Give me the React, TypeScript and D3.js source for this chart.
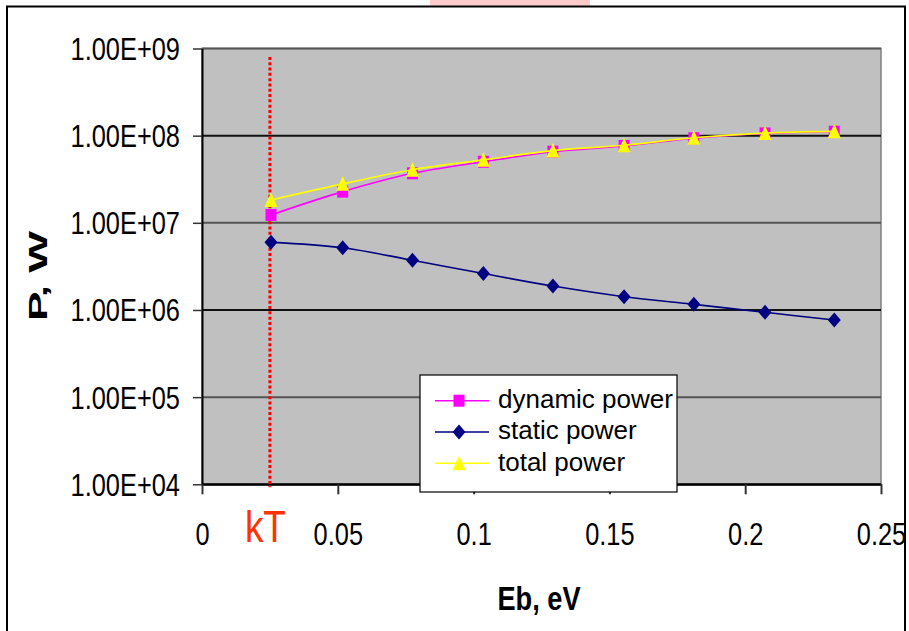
import React, { useEffect, useRef } from 'react';
import * as d3 from 'd3';

// barrier energy, eV
const ebValues = [0.0254, 0.0518, 0.0775, 0.1036, 0.1292, 0.1554, 0.1811, 0.2073, 0.2328];
// power, W
const dynamicPower = [1.23e7, 2.28e7, 3.7e7, 5.02e7, 6.55e7, 7.61e7, 9.33e7, 1.06e8, 1.11e8];
const staticPower = [5.97e6, 5.18e6, 3.72e6, 2.62e6, 1.88e6, 1.42e6, 1.16e6, 9.4e5, 7.67e5];
const totalPower = [1.83e7, 2.8e7, 4.07e7, 5.28e7, 6.74e7, 7.75e7, 9.45e7, 1.07e8, 1.12e8];

const xTicks = [0, 0.05, 0.1, 0.15, 0.2, 0.25];
const yTicks = [1e4, 1e5, 1e6, 1e7, 1e8, 1e9];
const kT = 0.025;

const seriesNames = ['dynamic power', 'static power', 'total power'];

const FONT = "'Liberation Sans', Arial, sans-serif";

const fmtSci = (d: number) => {
  const e = Math.floor(Math.log10(d) + 1e-9);
  const m = d / Math.pow(10, e);
  return `${m.toFixed(2)}E${e < 0 ? '-' : '+'}${String(Math.abs(e)).padStart(2, '0')}`;
};

function drawMarker(g: any, kind: string, cx: number, cy: number) {
  if (kind === 'square') {
    g.append('rect')
      .attr('x', cx - 5.5).attr('y', cy - 6)
      .attr('width', 11).attr('height', 12)
      .attr('fill', '#ff00ff');
  } else if (kind === 'diamond') {
    g.append('path')
      .attr('d', `M${cx},${cy - 7.5}L${cx + 6.5},${cy}L${cx},${cy + 7.5}L${cx - 6.5},${cy}Z`)
      .attr('fill', '#000080');
  } else {
    g.append('path')
      .attr('d', `M${cx},${cy - 7.5}L${cx + 6.5},${cy + 7}L${cx - 6.5},${cy + 7}Z`)
      .attr('fill', '#ffff00');
  }
}

export default function App() {
  const ref = useRef<SVGSVGElement>(null);

  useEffect(() => {
    const svg = d3.select(ref.current);
    svg.selectAll('*').remove();

    const left = 202, right = 881, top = 48.5, bottom = 484.3;

    const x = d3.scaleLinear().domain([0, 0.25]).range([left, right]);
    const y = d3.scaleLog().domain([1e4, 1e9]).range([bottom, top]);

    // page background + frame
    svg.append('rect').attr('width', 909).attr('height', 631).attr('fill', '#fff');
    svg.append('rect').attr('x', 430).attr('y', 0).attr('width', 160).attr('height', 6).attr('fill', '#ffcccc');
    svg.append('rect')
      .attr('x', 7).attr('y', 6.5).attr('width', 898).attr('height', 640)
      .attr('fill', 'none').attr('stroke', '#000').attr('stroke-width', 2);

    // plot area
    svg.append('rect')
      .attr('x', left).attr('y', top)
      .attr('width', right - left).attr('height', bottom - top)
      .attr('fill', '#c0c0c0')
      .attr('stroke', '#808080').attr('stroke-width', 1.5);

    // gridlines
    svg.append('g')
      .selectAll('line')
      .data(yTicks)
      .enter()
      .append('line')
      .attr('x1', left).attr('x2', right)
      .attr('y1', d => y(d)).attr('y2', d => y(d))
      .attr('stroke', (d, i) => (i % 2 === 0 ? '#111' : '#555'))
      .attr('stroke-width', 2);

    // y axis
    const yAxis = svg.append('g')
      .attr('transform', `translate(${left},0)`)
      .call(d3.axisLeft(y).tickValues(yTicks).tickFormat(fmtSci as any).tickSizeInner(9).tickSizeOuter(0));
    yAxis.select('.domain').attr('stroke', '#000').attr('stroke-width', 2);
    yAxis.selectAll('.tick line').attr('stroke', '#333').attr('stroke-width', 1.5);
    yAxis.selectAll('.tick text')
      .attr('x', 0).attr('dy', null)
      .attr('transform', 'translate(-22,11) scale(0.82,1)')
      .attr('text-anchor', 'end')
      .attr('fill', '#000')
      .style('font-family', FONT)
      .style('font-size', '31px');

    // x axis
    const xAxis = svg.append('g')
      .attr('transform', `translate(0,${bottom})`)
      .call(d3.axisBottom(x).tickValues(xTicks).tickFormat(d3.format('~g') as any).tickSizeInner(10).tickSizeOuter(0));
    xAxis.select('.domain').attr('stroke', '#000').attr('stroke-width', 2);
    xAxis.selectAll('.tick line').attr('stroke', '#333').attr('stroke-width', 2);
    xAxis.selectAll('.tick text')
      .attr('y', 0).attr('dy', null)
      .attr('transform', 'translate(0,61) scale(0.82,1)')
      .attr('text-anchor', 'middle')
      .attr('fill', '#000')
      .style('font-family', FONT)
      .style('font-size', '31px');

    // kT reference line
    svg.append('line')
      .attr('x1', x(kT)).attr('x2', x(kT))
      .attr('y1', y(8e8)).attr('y2', bottom + 3)
      .attr('stroke', '#ff0000').attr('stroke-width', 3)
      .attr('stroke-dasharray', '3,2.3');

    svg.append('text')
      .attr('transform', `translate(${x(kT) - 4.5},541.7) scale(0.84,1)`)
      .attr('text-anchor', 'middle')
      .attr('fill', '#ff3300')
      .style('font-family', FONT)
      .style('font-size', '44px')
      .text('kT');

    const series = [
      { name: seriesNames[0], values: dynamicPower, color: '#ff00ff', marker: 'square' },
      { name: seriesNames[1], values: staticPower, color: '#000080', marker: 'diamond' },
      { name: seriesNames[2], values: totalPower, color: '#ffff00', marker: 'triangle' },
    ];

    const line = d3.line<number>()
      .x((d, i) => x(ebValues[i]))
      .y(d => y(d))
      .curve(d3.curveCatmullRom);

    series.forEach(s => {
      const g = svg.append('g');
      g.append('path')
        .attr('d', line(s.values))
        .attr('fill', 'none')
        .attr('stroke', s.color)
        .attr('stroke-width', 1.6);
      s.values.forEach((v, i) => drawMarker(g, s.marker, x(ebValues[i]), y(v)));
    });

    // legend
    const lg = svg.append('g');
    lg.append('rect')
      .attr('x', 420).attr('y', 375).attr('width', 257).attr('height', 117)
      .attr('fill', '#fff').attr('stroke', '#000').attr('stroke-width', 1.2);
    series.forEach((s, i) => {
      const cy = 400.7 + i * 31.3;
      lg.append('line')
        .attr('x1', 435).attr('x2', 489).attr('y1', cy).attr('y2', cy)
        .attr('stroke', s.color).attr('stroke-width', 1.6);
      drawMarker(lg, s.marker, 459, cy);
      lg.append('text')
        .attr('x', 498).attr('y', cy + 7.3)
        .attr('fill', '#000')
        .style('font-family', FONT)
        .style('font-size', '26px')
        .text(s.name);
    });

    // axis titles
    svg.append('text')
      .attr('transform', 'translate(539,610) scale(0.8,1)')
      .attr('text-anchor', 'middle')
      .attr('fill', '#000')
      .style('font-family', FONT)
      .style('font-size', '34px')
      .style('font-weight', 'bold')
      .text('Eb, eV');

    svg.append('text')
      .attr('transform', 'translate(47,276) rotate(-90)')
      .attr('text-anchor', 'middle')
      .attr('textLength', 90)
      .attr('lengthAdjust', 'spacingAndGlyphs')
      .attr('fill', '#000')
      .style('font-family', FONT)
      .style('font-size', '26.5px')
      .style('font-weight', 'bold')
      .text('P, W');
  }, []);

  return (
    <svg
      ref={ref}
      width={909}
      height={631}
      style={{ position: 'absolute', left: 0, top: 0, display: 'block' }}
    />
  );
}
